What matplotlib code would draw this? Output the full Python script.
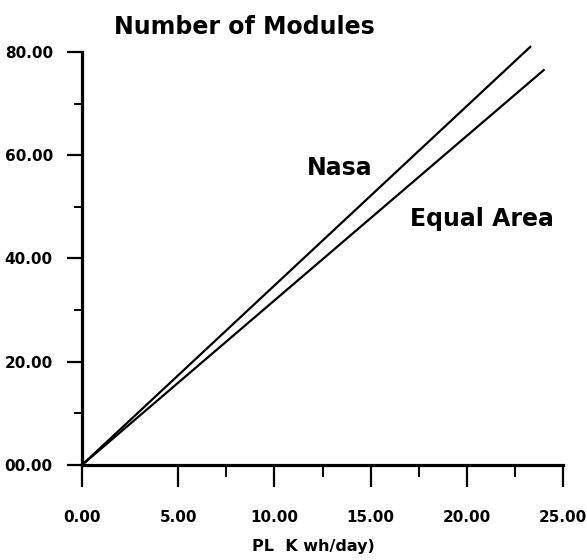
import matplotlib
matplotlib.use("Agg")
import matplotlib.pyplot as plt
from matplotlib.ticker import FixedLocator

plt.rcParams['font.family'] = ['DejaVu Sans']

# data
nasa_x = [0.0, 23.3]
nasa_y = [0.0, 81.0]
equal_x = [0.0, 24.0]
equal_y = [0.0, 76.5]
xticks = [0, 5, 10, 15, 20, 25]
xtick_labels = ["0.00", "5.00", "10.00", "15.00", "20.00", "25.00"]
x_minor = [7.5, 12.5, 17.5, 22.5]
yticks = [0, 20, 40, 60, 80]
ytick_labels = ["00.00", "20.00", "40.00", "60.00", "80.00"]
y_minor = [10, 30, 50, 70]

fig = plt.figure(figsize=(5.87, 5.6), dpi=100)
ax = fig.add_axes([82/587, 95/560, 481/587, 413/560])

ax.plot(nasa_x, nasa_y, color='black', lw=1.6, clip_on=False)
ax.plot(equal_x, equal_y, color='black', lw=1.6, clip_on=False)

ax.set_xlim(0, 25)
ax.set_ylim(0, 80)
for s in ['top', 'right']:
    ax.spines[s].set_visible(False)
for s in ['left', 'bottom']:
    ax.spines[s].set_linewidth(2.3)

ax.set_xticks(xticks)
ax.set_xticklabels(xtick_labels, fontsize=11, fontweight='bold')
ax.set_yticks(yticks)
ax.set_yticklabels(ytick_labels, fontsize=11, fontweight='bold')
ax.xaxis.set_minor_locator(FixedLocator(x_minor))
ax.yaxis.set_minor_locator(FixedLocator(y_minor))
ax.tick_params(axis='x', which='major', direction='out', length=16, width=1.6, pad=16.5)
ax.tick_params(axis='x', which='minor', direction='out', length=8.6, width=1.4)
ax.tick_params(axis='y', which='major', direction='out', length=11, width=1.6, pad=10)
ax.tick_params(axis='y', which='minor', direction='out', length=6, width=1.4)

ax.text(13.4, 57.5, "Nasa", fontsize=17, fontweight='bold', ha='center', va='center')
ax.text(20.8, 47.7, "Equal Area", fontsize=17, fontweight='bold', ha='center', va='center')

fig.text(244/587, 1 - 27/560, "Number of Modules", fontsize=17, fontweight='bold',
         ha='center', va='center')
fig.text(313/587, 1 - 547/560, "PL  K wh/day)", fontsize=11.5, fontweight='bold', ha='center', va='center')

fig.savefig("out.png", dpi=100, facecolor='white')
